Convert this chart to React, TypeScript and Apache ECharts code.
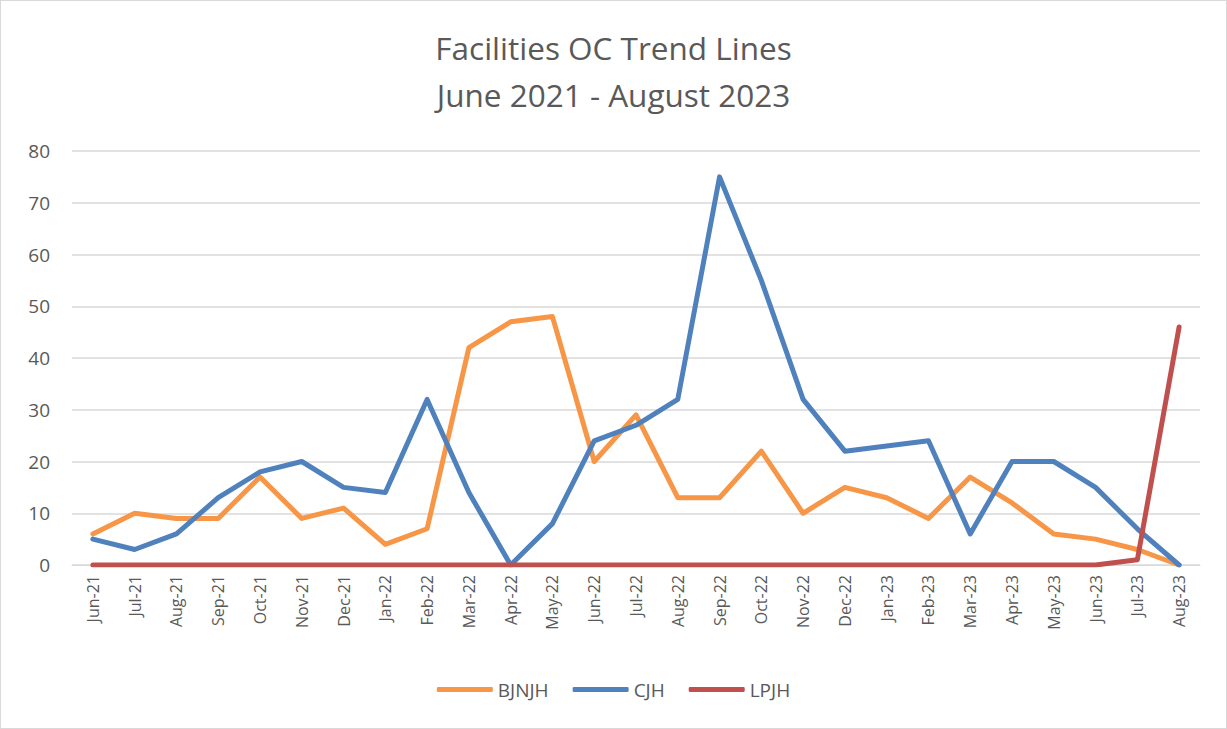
import React, { useEffect, useRef } from "react";
import * as echarts from "echarts";

const categories = [
  "Jun-21", "Jul-21", "Aug-21", "Sep-21", "Oct-21", "Nov-21", "Dec-21",
  "Jan-22", "Feb-22", "Mar-22", "Apr-22", "May-22", "Jun-22", "Jul-22",
  "Aug-22", "Sep-22", "Oct-22", "Nov-22", "Dec-22", "Jan-23", "Feb-23",
  "Mar-23", "Apr-23", "May-23", "Jun-23", "Jul-23", "Aug-23",
];
const bjnjh = [6, 10, 9, 9, 17, 9, 11, 4, 7, 42, 47, 48, 20, 29, 13, 13, 22, 10, 15, 13, 9, 17, 12, 6, 5, 3, 0];
const cjh = [5, 3, 6, 13, 18, 20, 15, 14, 32, 14, 0, 8, 24, 27, 32, 75, 55, 32, 22, 23, 24, 6, 20, 20, 15, 7, 0];
const lpjh = [0, 0, 0, 0, 0, 0, 0, 0, 0, 0, 0, 0, 0, 0, 0, 0, 0, 0, 0, 0, 0, 0, 0, 0, 0, 1, 46];

const FONT = "'Open Sans', 'Noto Sans', sans-serif";

export default function App() {
  const ref = useRef<HTMLDivElement>(null);
  useEffect(() => {
    if (!ref.current) return;
    const chart = echarts.init(ref.current, undefined, { renderer: "svg" });
    const mk = (name: string, data: number[], color: string) => ({
      name,
      type: "line",
      data,
      symbol: "none",
      lineStyle: { width: 5, color, cap: "round", join: "round" },
      itemStyle: { color },
    });
    chart.setOption({
      animation: false,
      backgroundColor: "#ffffff",
      title: {
        text: "Facilities OC Trend Lines\nJune 2021 - August 2023",
        left: "center",
        top: 18,
        textStyle: {
          fontFamily: FONT,
          fontSize: 31.5,
          fontWeight: "normal",
          color: "#595959",
          lineHeight: 47,
        },
      },
      legend: {
        bottom: 24,
        left: "center",
        itemWidth: 56,
        itemHeight: 5,
        itemGap: 24,
        icon: "roundRect",
        textStyle: { fontFamily: FONT, fontSize: 19, color: "#595959" },
        data: ["BJNJH", "CJH", "LPJH"],
      },
      grid: { left: 71, right: 26, top: 150, bottom: 163, containLabel: false },
      xAxis: {
        type: "category",
        data: categories,
        boundaryGap: true,
        axisLine: { show: true, lineStyle: { color: "#d9d9d9", width: 1 } },
        axisTick: { show: false },
        axisLabel: {
          rotate: 90,
          interval: 0,
          fontFamily: FONT,
          fontSize: 16,
          color: "#595959",
          margin: 10,
        },
      },
      yAxis: {
        type: "value",
        min: 0,
        max: 80,
        interval: 10,
        axisLine: { show: false },
        axisTick: { show: false },
        splitLine: { lineStyle: { color: "#d9d9d9", width: 1.5 } },
        axisLabel: { fontFamily: FONT, fontSize: 19, color: "#595959", margin: 22 },
      },
      series: [
        mk("BJNJH", bjnjh, "#F79646"),
        mk("CJH", cjh, "#4F81BD"),
        mk("LPJH", lpjh, "#C0504D"),
      ],
    });
    return () => chart.dispose();
  }, []);
  return (
    <div
      ref={ref}
      style={{
        position: "fixed",
        left: 0,
        top: 0,
        width: 1225,
        height: 727,
        border: "1px solid #d9d9d9",
        background: "#fff",
      }}
    />
  );
}
